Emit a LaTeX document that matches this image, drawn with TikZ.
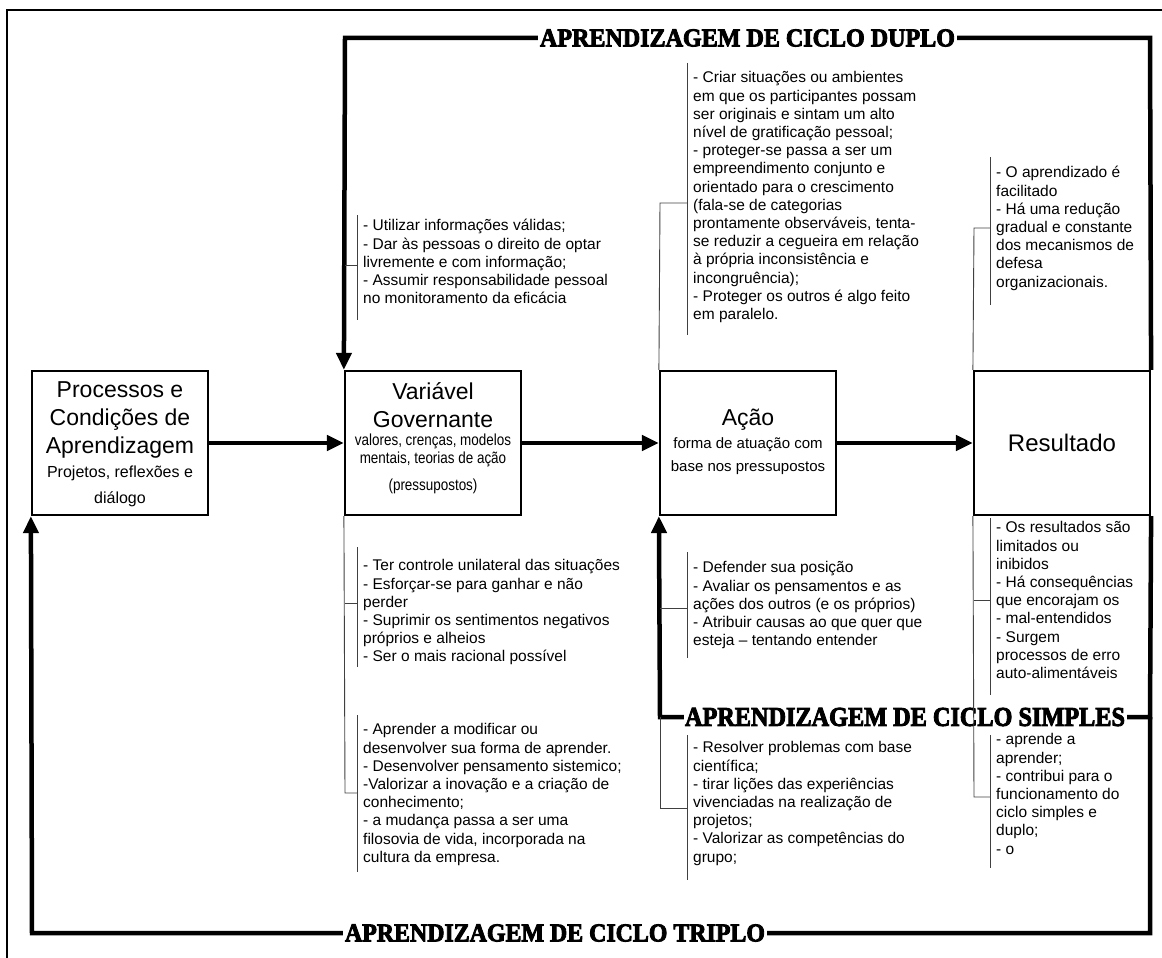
\documentclass[tikz,border=0pt]{standalone}
\usepackage{fontspec}
\usepackage{graphicx}
\setmainfont{Liberation Sans}
\newfontfamily\narrowfont[FakeStretch=0.84]{Liberation Sans}
\newfontfamily\stencilfont[FakeBold=3.5]{Liberation Serif Bold}
\usetikzlibrary{arrows.meta}

\tikzset{
  frameline/.style={line width=2.5pt},
  loopline/.style={line width=4.5pt, line join=miter},
  looparrow/.style={loopline, -{Triangle[length=17pt,width=15pt]}},
  stagebox/.style={draw, line width=2.2pt, minimum width=176pt, minimum height=144pt, inner sep=0pt},
  looplabel/.style={fill=white, inner sep=1.5pt},
  thinline/.style={line width=0.9pt, draw=black!75},
  sidetext/.style={anchor=north west, inner sep=0pt, align=left, font=\fontsize{15.5}{18.2}\selectfont},
  bigline/.style={anchor=base, inner sep=0pt, font=\fontsize{23}{27}\selectfont},
  smallline/.style={anchor=base, inner sep=0pt, font=\fontsize{16}{19}\selectfont},
  narrowline/.style={anchor=base, inner sep=0pt, font=\narrowfont\fontsize{16}{19}\selectfont},
}

\begin{document}
\begin{tikzpicture}[x=1pt,y=-1pt]
\useasboundingbox (0,0) rectangle (1162,958);

% outer frame
\draw[frameline] (7,958) -- (7,10) -- (1162,10);

% the four stages
\node[stagebox] (P) at (120,443) {};
\node[stagebox] (V) at (433,443) {};
\node[stagebox] (A) at (748,443) {};
\node[stagebox] (R) at (1062,443) {};

% stage texts
\node[bigline] (P1) at (120,397) {Processos e};
\node[bigline] (P2) at (120,425) {Condições de};
\node[bigline] (P3) at (120,453) {Aprendizagem};
\node[smallline] (P4) at (120,477) {Projetos, reflexões e};
\node[smallline] (P5) at (120,503) {diálogo};

\node[bigline] (V1) at (433,399) {Variável};
\node[bigline] (V2) at (433,427) {Governante};
\node[narrowline] (V3) at (433,445) {valores, crenças, modelos};
\node[narrowline] (V4) at (433,463) {mentais, teorias de ação};
\node[narrowline] (V5) at (433,490) {(pressupostos)};

\node[bigline] (A1) at (748,425) {Ação};
\node[smallline, font=\fontsize{15}{18}\selectfont] (A2) at (748,448) {forma de atuação com};
\node[smallline, font=\fontsize{15}{18}\selectfont] (A3) at (748,471) {base nos pressupostos};

\node[bigline, font=\fontsize{24}{28}\selectfont] (R1) at (1062,451) {Resultado};

% main flow
\draw[looparrow] (P.east) -- (V.west);
\draw[looparrow] (V.east) -- (A.west);
\draw[looparrow] (A.east) -- (R.west);

% feedback loops
\coordinate (dR) at (1150,38);
\coordinate (dL) at (345,38);
\coordinate (sR) at (1150,717);
\coordinate (sL) at (660,717);
\coordinate (tR) at (1150,933);
\coordinate (tL) at (32,933);
\draw[looparrow] (R.north east) -- (dR) -- (dL) -- (V.north west);
\draw[looparrow] (R.south east) -- (sR) -- (sL) -- (A.south west);
\draw[looparrow] (sR) -- (tR) -- (tL) -- (P.south west);

\node[looplabel] (lblD) at (747.5,38) {\resizebox{415pt}{17pt}{\stencilfont APRENDIZAGEM DE CICLO DUPLO}};
\node[looplabel] (lblS) at (905,717) {\resizebox{440pt}{18pt}{\stencilfont APRENDIZAGEM DE CICLO SIMPLES}};
\node[looplabel] (lblT) at (555,933) {\resizebox{420pt}{17pt}{\stencilfont APRENDIZAGEM DE CICLO TRIPLO}};

% brackets and their leaders
\draw[thinline] (345,265) -- (357,265);
\draw[thinline] (357,215) -- (357,320);

\draw[thinline] (A.north west) -- (660,203) -- (687,203);
\draw[thinline] (687,63) -- (687,335);

\draw[thinline] (R.north west) -- (974,228) -- (990,228);
\draw[thinline] (990,157) -- (990,305);

\draw[thinline] (V.south west) -- (345,793) -- (357,793);
\draw[thinline] (345,603) -- (357,603);
\draw[thinline] (357,547) -- (357,667);
\draw[thinline] (357,715) -- (357,872);

\draw[thinline] (660,608) -- (687,608);
\draw[thinline] (687,552) -- (687,658);

\draw[thinline] (sL) -- (660,808) -- (687,808);
\draw[thinline] (687,735) -- (687,880);

\draw[thinline] (R.south west) -- (974,797) -- (990,797);
\draw[thinline] (974,600) -- (990,600);
\draw[thinline] (990,518) -- (990,695);
\draw[thinline] (990,735) -- (990,868);

% side notes
\node[sidetext] (tU) at (363,218) {\strut- Utilizar informações válidas;\\
- Dar às pessoas o direito de optar\\
livremente e com informação;\\
- Assumir responsabilidade pessoal\\
no monitoramento da eficácia};

\node[sidetext] (tC) at (693,70) {\strut- Criar situações ou ambientes\\
em que os participantes possam\\
ser originais e sintam um alto\\
nível de gratificação pessoal;\\
- proteger-se passa a ser um\\
empreendimento conjunto e\\
orientado para o crescimento\\
(fala-se de categorias\\
prontamente observáveis, tenta-\\
se reduzir a cegueira em relação\\
à própria inconsistência e\\
incongruência);\\
- Proteger os outros é algo feito\\
em paralelo.};

\node[sidetext] (tO) at (996,165) {\strut- O aprendizado é\\
facilitado\\
- Há uma redução\\
gradual e constante\\
dos mecanismos de\\
defesa\\
organizacionais.};

\node[sidetext] (tT) at (363,558) {\strut- Ter controle unilateral das situações\\
- Esforçar-se para ganhar e não\\
perder\\
- Suprimir os sentimentos negativos\\
próprios e alheios\\
- Ser o mais racional possível};

\node[sidetext] (tAp) at (363,722) {\strut- Aprender a modificar ou\\
desenvolver sua forma de aprender.\\
- Desenvolver pensamento sistemico;\\
-Valorizar a inovação e a criação de\\
conhecimento;\\
- a mudança passa a ser uma\\
filosovia de vida, incorporada na\\
cultura da empresa.};

\node[sidetext] (tD) at (693,560) {\strut- Defender sua posição\\
- Avaliar os pensamentos e as\\
ações dos outros (e os próprios)\\
- Atribuir causas ao que quer que\\
esteja – tentando entender};

\node[sidetext] (tR1) at (996,520) {\strut- Os resultados são\\
limitados ou\\
inibidos\\
- Há consequências\\
que encorajam os\\
- mal-entendidos\\
- Surgem\\
processos de erro\\
auto-alimentáveis};

\node[sidetext] (tRs) at (693,740) {\strut- Resolver problemas com base\\
científica;\\
- tirar lições das experiências\\
vivenciadas na realização de\\
projetos;\\
- Valorizar as competências do\\
grupo;};

\node[sidetext] (tR2) at (996,732) {\strut- aprende a\\
aprender;\\
- contribui para o\\
funcionamento do\\
ciclo simples e\\
duplo;\\
- o};
\end{tikzpicture}
\end{document}
